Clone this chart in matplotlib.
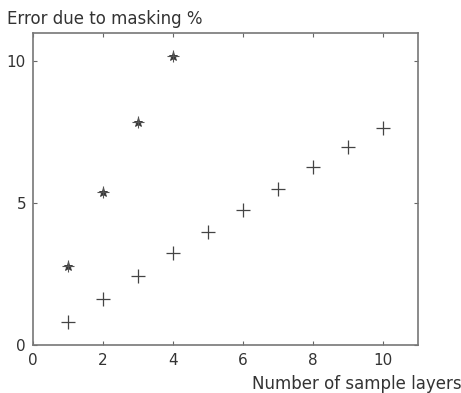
import matplotlib.pyplot as plt

# masking error vs number of layers
layers_a = [1, 2, 3, 4]
error_a = [2.77, 5.40, 7.86, 10.18]

layers_b = [1, 2, 3, 4, 5, 6, 7, 8, 9, 10]
error_b = [0.81, 1.61, 2.42, 3.24, 4.00, 4.76, 5.50, 6.26, 6.98, 7.66]

xticks = [0, 2, 4, 6, 8, 10]
yticks = [0, 5, 10]

plt.rcParams['font.family'] = ['DejaVu Sans']

fig = plt.figure(figsize=(4.61, 3.93), dpi=100)
ax = fig.add_axes([33/461, 48/393, 385/461, 312/393])

ax.plot(layers_a, error_a, '*', color='#333333', markersize=6.5, markeredgewidth=0.6)
ax.plot(layers_a, error_a, '+', color='#555555', markersize=8, markeredgewidth=0.8)
ax.plot(layers_b, error_b, '+', color='#444444', markersize=9.5, markeredgewidth=0.9)

ax.set_xlim(0, 11)
ax.set_ylim(0, 11)
ax.set_xticks(xticks)
ax.set_yticks(yticks)
ax.tick_params(direction='in', length=3, width=0.8, colors='#666666',
               labelcolor='#333333', labelsize=11, top=True, right=True)
ax.tick_params(axis='x', pad=6)
ax.tick_params(axis='y', pad=5)
for s in ax.spines.values():
    s.set_color('#777777')
    s.set_linewidth(1.2)

fig.text(7/461, 1 - 19/393, 'Error due to masking %', fontsize=12,
         color='#333333', va='center', ha='left')
fig.text(462/461, 1 - 384/393, 'Number of sample layers', fontsize=12,
         color='#333333', va='center', ha='right')

plt.savefig('out.png')
